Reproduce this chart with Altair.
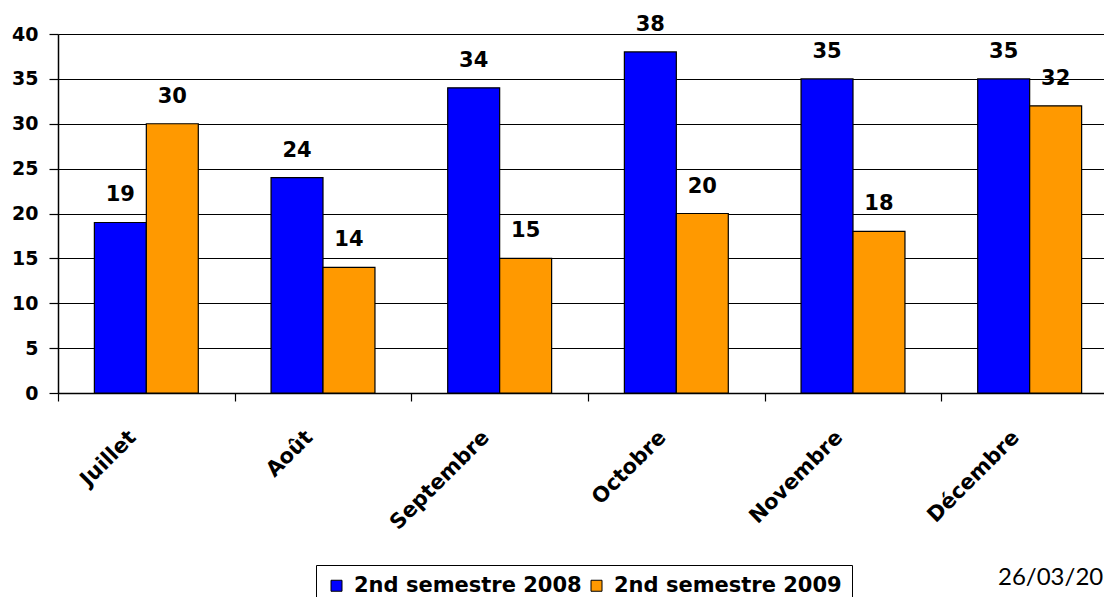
import altair as alt
import pandas as pd

months = ["Juillet", "Août", "Septembre", "Octobre", "Novembre", "Décembre"]
series_names = ["2nd semestre 2008", "2nd semestre 2009"]
values_2008 = [19, 24, 34, 38, 35, 35]
values_2009 = [30, 14, 15, 20, 18, 32]
colors = ["#0000FF", "#FF9900"]
date_note = "26/03/2010"
y_ticks = [0, 5, 10, 15, 20, 25, 30, 35, 40]

rows = []
for m, a, b in zip(months, values_2008, values_2009):
    rows.append({"mois": m, "serie": series_names[0], "valeur": a})
    rows.append({"mois": m, "serie": series_names[1], "valeur": b})
df = pd.DataFrame(rows)

FONT = "DejaVu Sans"

x_enc = alt.X(
    "mois:N",
    sort=months,
    scale=alt.Scale(range=[0, 1060], paddingInner=0, paddingOuter=0),
    axis=alt.Axis(
        title=None,
        domainColor="black",
        domainWidth=1.5,
        tickColor="black",
        tickWidth=1.2,
        tickSize=8,
        tickBand="extent",
        labelAngle=-45,
        labelAlign="right",
        labelBaseline="middle",
        labelOffset=-14,
        labelPadding=33,
        labelFont=FONT,
        labelFontWeight="bold",
        labelFontSize=21,
        labelColor="black",
        labelOverlap=False,
        labelBound=False,
        labelFlush=False,
        grid=False,
    ),
)
xoff_enc = alt.XOffset(
    "serie:N",
    sort=series_names,
    scale=alt.Scale(paddingInner=0, paddingOuter=0.7),
)
y_enc = alt.Y(
    "valeur:Q",
    scale=alt.Scale(domain=[0, 40], nice=False),
    axis=alt.Axis(
        title=None,
        values=y_ticks,
        domainColor="black",
        domainWidth=1.5,
        tickColor="black",
        tickWidth=1.2,
        tickSize=9,
        labelPadding=11,
        labelFont=FONT,
        labelFontWeight="bold",
        labelFontSize=19,
        labelColor="black",
        grid=True,
        gridColor="black",
        gridWidth=1.2,
        gridOpacity=1,
    ),
)

bars = alt.Chart(df).mark_bar(stroke="black", strokeWidth=1.2).encode(
    x=x_enc,
    xOffset=xoff_enc,
    y=y_enc,
    color=alt.Color(
        "serie:N",
        sort=series_names,
        scale=alt.Scale(domain=series_names, range=colors),
        legend=alt.Legend(
            title=None,
            orient="none",
            legendX=258,
            legendY=531,
            direction="horizontal",
            symbolType="square",
            symbolSize=121,
            symbolStrokeColor="black",
            symbolStrokeWidth=1,
            labelFont=FONT,
            labelFontWeight="bold",
            labelFontSize=21,
            labelColor="black",
            labelOffset=7,
            labelLimit=400,
            columnPadding=4,
            padding=10,
            strokeColor="black",
            fillColor="white",
        ),
    ),
)

labels = alt.Chart(df).mark_text(
    font=FONT, fontWeight="bold", fontSize=21, color="black",
    baseline="alphabetic", align="center", dy=-21,
).encode(
    x=alt.X("mois:N", sort=months),
    xOffset=alt.XOffset("serie:N", sort=series_names),
    y="valeur:Q",
    text="valeur:Q",
)

date_layer = alt.Chart(alt.Data(values=[{"t": date_note}])).mark_text(
    font="Lato", fontSize=24, color="black", align="left", baseline="alphabetic",
).encode(
    x=alt.value(940),
    y=alt.value(551),
    text="t:N",
)

chart = alt.layer(bars, labels, date_layer).properties(
    width=1046,
    height=359,
    autosize=alt.AutoSizeParams(type="none"),
    padding={"left": 50, "top": 26, "right": 0, "bottom": 204},
).configure_view(stroke=None).configure(background="white")

chart.save("out.html", embed_options={"renderer": "svg", "actions": False})
